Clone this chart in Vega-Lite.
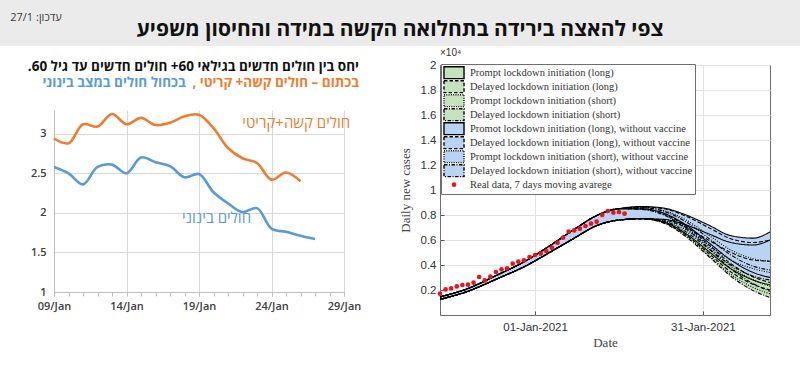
{
  "$schema": "https://vega.github.io/schema/vega-lite/v6.json",
  "background": "white",
  "padding": 0,
  "config": {"view": {"stroke": null}, "font": "Open Sans", "axis": {"labelOverlap": false}},
  "datasets": {
    "ratios": [
      {"series": "severe", "date": "2021-01-09", "ratio": 2.94},
      {"series": "severe", "date": "2021-01-10", "ratio": 2.88},
      {"series": "severe", "date": "2021-01-11", "ratio": 3.12},
      {"series": "severe", "date": "2021-01-12", "ratio": 3.09},
      {"series": "severe", "date": "2021-01-13", "ratio": 3.25},
      {"series": "severe", "date": "2021-01-14", "ratio": 3.12},
      {"series": "severe", "date": "2021-01-15", "ratio": 3.20},
      {"series": "severe", "date": "2021-01-16", "ratio": 3.11},
      {"series": "severe", "date": "2021-01-17", "ratio": 3.14},
      {"series": "severe", "date": "2021-01-18", "ratio": 3.22},
      {"series": "severe", "date": "2021-01-19", "ratio": 3.24},
      {"series": "severe", "date": "2021-01-20", "ratio": 3.07},
      {"series": "severe", "date": "2021-01-21", "ratio": 2.82},
      {"series": "severe", "date": "2021-01-22", "ratio": 2.69},
      {"series": "severe", "date": "2021-01-23", "ratio": 2.63},
      {"series": "severe", "date": "2021-01-24", "ratio": 2.42},
      {"series": "severe", "date": "2021-01-25", "ratio": 2.51},
      {"series": "severe", "date": "2021-01-26", "ratio": 2.40},
      {"series": "moderate", "date": "2021-01-09", "ratio": 2.58},
      {"series": "moderate", "date": "2021-01-10", "ratio": 2.50},
      {"series": "moderate", "date": "2021-01-11", "ratio": 2.36},
      {"series": "moderate", "date": "2021-01-12", "ratio": 2.58},
      {"series": "moderate", "date": "2021-01-13", "ratio": 2.61},
      {"series": "moderate", "date": "2021-01-14", "ratio": 2.50},
      {"series": "moderate", "date": "2021-01-15", "ratio": 2.70},
      {"series": "moderate", "date": "2021-01-16", "ratio": 2.64},
      {"series": "moderate", "date": "2021-01-17", "ratio": 2.59},
      {"series": "moderate", "date": "2021-01-18", "ratio": 2.45},
      {"series": "moderate", "date": "2021-01-19", "ratio": 2.49},
      {"series": "moderate", "date": "2021-01-20", "ratio": 2.26},
      {"series": "moderate", "date": "2021-01-21", "ratio": 2.12},
      {"series": "moderate", "date": "2021-01-22", "ratio": 2.01},
      {"series": "moderate", "date": "2021-01-23", "ratio": 2.06},
      {"series": "moderate", "date": "2021-01-24", "ratio": 1.80},
      {"series": "moderate", "date": "2021-01-25", "ratio": 1.76},
      {"series": "moderate", "date": "2021-01-26", "ratio": 1.71},
      {"series": "moderate", "date": "2021-01-27", "ratio": 1.67}
    ],
    "ratioLabels": [
      {"series": "severe", "date": "2021-01-25T17:00:00Z", "ratio": 3.13, "label": "‏חולים קשה+קריטי‏"},
      {"series": "moderate", "date": "2021-01-20T05:00:00Z", "ratio": 1.93, "label": "‏חולים בינוני‏"}
    ],
    "real": [
      {"scenario": "Real data, 7 days moving avarege", "date": "2020-12-15", "cases": 0.171},
      {"scenario": "Real data, 7 days moving avarege", "date": "2020-12-16", "cases": 0.205},
      {"scenario": "Real data, 7 days moving avarege", "date": "2020-12-17", "cases": 0.213},
      {"scenario": "Real data, 7 days moving avarege", "date": "2020-12-18", "cases": 0.229},
      {"scenario": "Real data, 7 days moving avarege", "date": "2020-12-19", "cases": 0.240},
      {"scenario": "Real data, 7 days moving avarege", "date": "2020-12-20", "cases": 0.243},
      {"scenario": "Real data, 7 days moving avarege", "date": "2020-12-21", "cases": 0.259},
      {"scenario": "Real data, 7 days moving avarege", "date": "2020-12-22", "cases": 0.304},
      {"scenario": "Real data, 7 days moving avarege", "date": "2020-12-23", "cases": 0.277},
      {"scenario": "Real data, 7 days moving avarege", "date": "2020-12-24", "cases": 0.307},
      {"scenario": "Real data, 7 days moving avarege", "date": "2020-12-25", "cases": 0.344},
      {"scenario": "Real data, 7 days moving avarege", "date": "2020-12-26", "cases": 0.365},
      {"scenario": "Real data, 7 days moving avarege", "date": "2020-12-27", "cases": 0.373},
      {"scenario": "Real data, 7 days moving avarege", "date": "2020-12-28", "cases": 0.411},
      {"scenario": "Real data, 7 days moving avarege", "date": "2020-12-29", "cases": 0.427},
      {"scenario": "Real data, 7 days moving avarege", "date": "2020-12-30", "cases": 0.437},
      {"scenario": "Real data, 7 days moving avarege", "date": "2020-12-31", "cases": 0.464},
      {"scenario": "Real data, 7 days moving avarege", "date": "2021-01-01", "cases": 0.480},
      {"scenario": "Real data, 7 days moving avarege", "date": "2021-01-02", "cases": 0.491},
      {"scenario": "Real data, 7 days moving avarege", "date": "2021-01-03", "cases": 0.512},
      {"scenario": "Real data, 7 days moving avarege", "date": "2021-01-04", "cases": 0.539},
      {"scenario": "Real data, 7 days moving avarege", "date": "2021-01-05", "cases": 0.579},
      {"scenario": "Real data, 7 days moving avarege", "date": "2021-01-06", "cases": 0.619},
      {"scenario": "Real data, 7 days moving avarege", "date": "2021-01-07", "cases": 0.667},
      {"scenario": "Real data, 7 days moving avarege", "date": "2021-01-08", "cases": 0.677},
      {"scenario": "Real data, 7 days moving avarege", "date": "2021-01-09", "cases": 0.691},
      {"scenario": "Real data, 7 days moving avarege", "date": "2021-01-10", "cases": 0.712},
      {"scenario": "Real data, 7 days moving avarege", "date": "2021-01-11", "cases": 0.731},
      {"scenario": "Real data, 7 days moving avarege", "date": "2021-01-12", "cases": 0.747},
      {"scenario": "Real data, 7 days moving avarege", "date": "2021-01-13", "cases": 0.800},
      {"scenario": "Real data, 7 days moving avarege", "date": "2021-01-14", "cases": 0.832},
      {"scenario": "Real data, 7 days moving avarege", "date": "2021-01-15", "cases": 0.819},
      {"scenario": "Real data, 7 days moving avarege", "date": "2021-01-16", "cases": 0.824},
      {"scenario": "Real data, 7 days moving avarege", "date": "2021-01-17", "cases": 0.811}
    ],
    "bands": [
      {"scenario": "Prompt lockdown initiation (long)", "date": "2020-12-15", "lo": 0.125, "hi": 0.145},
      {"scenario": "Prompt lockdown initiation (long)", "date": "2020-12-20", "lo": 0.19, "hi": 0.212},
      {"scenario": "Prompt lockdown initiation (long)", "date": "2020-12-25", "lo": 0.285, "hi": 0.315},
      {"scenario": "Prompt lockdown initiation (long)", "date": "2020-12-30", "lo": 0.385, "hi": 0.425},
      {"scenario": "Prompt lockdown initiation (long)", "date": "2021-01-04", "lo": 0.51, "hi": 0.565},
      {"scenario": "Prompt lockdown initiation (long)", "date": "2021-01-08", "lo": 0.615, "hi": 0.685},
      {"scenario": "Prompt lockdown initiation (long)", "date": "2021-01-12", "lo": 0.715, "hi": 0.795},
      {"scenario": "Prompt lockdown initiation (long)", "date": "2021-01-16", "lo": 0.76, "hi": 0.85},
      {"scenario": "Prompt lockdown initiation (long)", "date": "2021-01-20", "lo": 0.77, "hi": 0.85},
      {"scenario": "Prompt lockdown initiation (long)", "date": "2021-01-24", "lo": 0.745, "hi": 0.815},
      {"scenario": "Prompt lockdown initiation (long)", "date": "2021-01-28", "lo": 0.65, "hi": 0.72},
      {"scenario": "Prompt lockdown initiation (long)", "date": "2021-02-01", "lo": 0.51, "hi": 0.58},
      {"scenario": "Prompt lockdown initiation (long)", "date": "2021-02-05", "lo": 0.37, "hi": 0.44},
      {"scenario": "Prompt lockdown initiation (long)", "date": "2021-02-09", "lo": 0.28, "hi": 0.34},
      {"scenario": "Prompt lockdown initiation (long)", "date": "2021-02-12", "lo": 0.24, "hi": 0.30},
      {"scenario": "Delayed lockdown initiation (long)", "date": "2020-12-15", "lo": 0.125, "hi": 0.145},
      {"scenario": "Delayed lockdown initiation (long)", "date": "2020-12-20", "lo": 0.19, "hi": 0.212},
      {"scenario": "Delayed lockdown initiation (long)", "date": "2020-12-25", "lo": 0.285, "hi": 0.315},
      {"scenario": "Delayed lockdown initiation (long)", "date": "2020-12-30", "lo": 0.385, "hi": 0.425},
      {"scenario": "Delayed lockdown initiation (long)", "date": "2021-01-04", "lo": 0.51, "hi": 0.565},
      {"scenario": "Delayed lockdown initiation (long)", "date": "2021-01-08", "lo": 0.615, "hi": 0.685},
      {"scenario": "Delayed lockdown initiation (long)", "date": "2021-01-12", "lo": 0.715, "hi": 0.795},
      {"scenario": "Delayed lockdown initiation (long)", "date": "2021-01-16", "lo": 0.76, "hi": 0.85},
      {"scenario": "Delayed lockdown initiation (long)", "date": "2021-01-20", "lo": 0.77, "hi": 0.85},
      {"scenario": "Delayed lockdown initiation (long)", "date": "2021-01-24", "lo": 0.74, "hi": 0.81},
      {"scenario": "Delayed lockdown initiation (long)", "date": "2021-01-28", "lo": 0.64, "hi": 0.71},
      {"scenario": "Delayed lockdown initiation (long)", "date": "2021-02-01", "lo": 0.495, "hi": 0.565},
      {"scenario": "Delayed lockdown initiation (long)", "date": "2021-02-05", "lo": 0.345, "hi": 0.41},
      {"scenario": "Delayed lockdown initiation (long)", "date": "2021-02-09", "lo": 0.245, "hi": 0.305},
      {"scenario": "Delayed lockdown initiation (long)", "date": "2021-02-12", "lo": 0.20, "hi": 0.26},
      {"scenario": "Prompt lockdown initiation (short)", "date": "2020-12-15", "lo": 0.125, "hi": 0.145},
      {"scenario": "Prompt lockdown initiation (short)", "date": "2020-12-20", "lo": 0.19, "hi": 0.212},
      {"scenario": "Prompt lockdown initiation (short)", "date": "2020-12-25", "lo": 0.285, "hi": 0.315},
      {"scenario": "Prompt lockdown initiation (short)", "date": "2020-12-30", "lo": 0.385, "hi": 0.425},
      {"scenario": "Prompt lockdown initiation (short)", "date": "2021-01-04", "lo": 0.51, "hi": 0.565},
      {"scenario": "Prompt lockdown initiation (short)", "date": "2021-01-08", "lo": 0.615, "hi": 0.685},
      {"scenario": "Prompt lockdown initiation (short)", "date": "2021-01-12", "lo": 0.715, "hi": 0.795},
      {"scenario": "Prompt lockdown initiation (short)", "date": "2021-01-16", "lo": 0.76, "hi": 0.85},
      {"scenario": "Prompt lockdown initiation (short)", "date": "2021-01-20", "lo": 0.77, "hi": 0.845},
      {"scenario": "Prompt lockdown initiation (short)", "date": "2021-01-24", "lo": 0.74, "hi": 0.805},
      {"scenario": "Prompt lockdown initiation (short)", "date": "2021-01-28", "lo": 0.635, "hi": 0.70},
      {"scenario": "Prompt lockdown initiation (short)", "date": "2021-02-01", "lo": 0.48, "hi": 0.55},
      {"scenario": "Prompt lockdown initiation (short)", "date": "2021-02-05", "lo": 0.325, "hi": 0.39},
      {"scenario": "Prompt lockdown initiation (short)", "date": "2021-02-09", "lo": 0.22, "hi": 0.28},
      {"scenario": "Prompt lockdown initiation (short)", "date": "2021-02-12", "lo": 0.17, "hi": 0.23},
      {"scenario": "Delayed lockdown initiation (short)", "date": "2020-12-15", "lo": 0.125, "hi": 0.145},
      {"scenario": "Delayed lockdown initiation (short)", "date": "2020-12-20", "lo": 0.19, "hi": 0.212},
      {"scenario": "Delayed lockdown initiation (short)", "date": "2020-12-25", "lo": 0.285, "hi": 0.315},
      {"scenario": "Delayed lockdown initiation (short)", "date": "2020-12-30", "lo": 0.385, "hi": 0.425},
      {"scenario": "Delayed lockdown initiation (short)", "date": "2021-01-04", "lo": 0.51, "hi": 0.565},
      {"scenario": "Delayed lockdown initiation (short)", "date": "2021-01-08", "lo": 0.615, "hi": 0.685},
      {"scenario": "Delayed lockdown initiation (short)", "date": "2021-01-12", "lo": 0.715, "hi": 0.795},
      {"scenario": "Delayed lockdown initiation (short)", "date": "2021-01-16", "lo": 0.76, "hi": 0.85},
      {"scenario": "Delayed lockdown initiation (short)", "date": "2021-01-20", "lo": 0.77, "hi": 0.845},
      {"scenario": "Delayed lockdown initiation (short)", "date": "2021-01-24", "lo": 0.735, "hi": 0.80},
      {"scenario": "Delayed lockdown initiation (short)", "date": "2021-01-28", "lo": 0.625, "hi": 0.69},
      {"scenario": "Delayed lockdown initiation (short)", "date": "2021-02-01", "lo": 0.47, "hi": 0.535},
      {"scenario": "Delayed lockdown initiation (short)", "date": "2021-02-05", "lo": 0.31, "hi": 0.37},
      {"scenario": "Delayed lockdown initiation (short)", "date": "2021-02-09", "lo": 0.195, "hi": 0.25},
      {"scenario": "Delayed lockdown initiation (short)", "date": "2021-02-12", "lo": 0.14, "hi": 0.19},
      {"scenario": "Promot lockdown initiation (long), without vaccine", "date": "2020-12-15", "lo": 0.125, "hi": 0.145},
      {"scenario": "Promot lockdown initiation (long), without vaccine", "date": "2020-12-20", "lo": 0.19, "hi": 0.212},
      {"scenario": "Promot lockdown initiation (long), without vaccine", "date": "2020-12-25", "lo": 0.285, "hi": 0.315},
      {"scenario": "Promot lockdown initiation (long), without vaccine", "date": "2020-12-30", "lo": 0.385, "hi": 0.425},
      {"scenario": "Promot lockdown initiation (long), without vaccine", "date": "2021-01-04", "lo": 0.51, "hi": 0.565},
      {"scenario": "Promot lockdown initiation (long), without vaccine", "date": "2021-01-08", "lo": 0.615, "hi": 0.685},
      {"scenario": "Promot lockdown initiation (long), without vaccine", "date": "2021-01-12", "lo": 0.715, "hi": 0.795},
      {"scenario": "Promot lockdown initiation (long), without vaccine", "date": "2021-01-16", "lo": 0.76, "hi": 0.85},
      {"scenario": "Promot lockdown initiation (long), without vaccine", "date": "2021-01-20", "lo": 0.77, "hi": 0.868},
      {"scenario": "Promot lockdown initiation (long), without vaccine", "date": "2021-01-24", "lo": 0.765, "hi": 0.855},
      {"scenario": "Promot lockdown initiation (long), without vaccine", "date": "2021-01-28", "lo": 0.72, "hi": 0.80},
      {"scenario": "Promot lockdown initiation (long), without vaccine", "date": "2021-02-01", "lo": 0.65, "hi": 0.72},
      {"scenario": "Promot lockdown initiation (long), without vaccine", "date": "2021-02-05", "lo": 0.58, "hi": 0.635},
      {"scenario": "Promot lockdown initiation (long), without vaccine", "date": "2021-02-09", "lo": 0.56, "hi": 0.615},
      {"scenario": "Promot lockdown initiation (long), without vaccine", "date": "2021-02-12", "lo": 0.60, "hi": 0.665},
      {"scenario": "Delayed lockdown initiation (long), without vaccine", "date": "2020-12-15", "lo": 0.125, "hi": 0.145},
      {"scenario": "Delayed lockdown initiation (long), without vaccine", "date": "2020-12-20", "lo": 0.19, "hi": 0.212},
      {"scenario": "Delayed lockdown initiation (long), without vaccine", "date": "2020-12-25", "lo": 0.285, "hi": 0.315},
      {"scenario": "Delayed lockdown initiation (long), without vaccine", "date": "2020-12-30", "lo": 0.385, "hi": 0.425},
      {"scenario": "Delayed lockdown initiation (long), without vaccine", "date": "2021-01-04", "lo": 0.51, "hi": 0.565},
      {"scenario": "Delayed lockdown initiation (long), without vaccine", "date": "2021-01-08", "lo": 0.615, "hi": 0.685},
      {"scenario": "Delayed lockdown initiation (long), without vaccine", "date": "2021-01-12", "lo": 0.715, "hi": 0.795},
      {"scenario": "Delayed lockdown initiation (long), without vaccine", "date": "2021-01-16", "lo": 0.76, "hi": 0.85},
      {"scenario": "Delayed lockdown initiation (long), without vaccine", "date": "2021-01-20", "lo": 0.77, "hi": 0.865},
      {"scenario": "Delayed lockdown initiation (long), without vaccine", "date": "2021-01-24", "lo": 0.76, "hi": 0.85},
      {"scenario": "Delayed lockdown initiation (long), without vaccine", "date": "2021-01-28", "lo": 0.70, "hi": 0.79},
      {"scenario": "Delayed lockdown initiation (long), without vaccine", "date": "2021-02-01", "lo": 0.60, "hi": 0.70},
      {"scenario": "Delayed lockdown initiation (long), without vaccine", "date": "2021-02-05", "lo": 0.50, "hi": 0.61},
      {"scenario": "Delayed lockdown initiation (long), without vaccine", "date": "2021-02-09", "lo": 0.44, "hi": 0.58},
      {"scenario": "Delayed lockdown initiation (long), without vaccine", "date": "2021-02-12", "lo": 0.43, "hi": 0.60},
      {"scenario": "Prompt lockdown initiation (short), without vaccine", "date": "2020-12-15", "lo": 0.125, "hi": 0.145},
      {"scenario": "Prompt lockdown initiation (short), without vaccine", "date": "2020-12-20", "lo": 0.19, "hi": 0.212},
      {"scenario": "Prompt lockdown initiation (short), without vaccine", "date": "2020-12-25", "lo": 0.285, "hi": 0.315},
      {"scenario": "Prompt lockdown initiation (short), without vaccine", "date": "2020-12-30", "lo": 0.385, "hi": 0.425},
      {"scenario": "Prompt lockdown initiation (short), without vaccine", "date": "2021-01-04", "lo": 0.51, "hi": 0.565},
      {"scenario": "Prompt lockdown initiation (short), without vaccine", "date": "2021-01-08", "lo": 0.615, "hi": 0.685},
      {"scenario": "Prompt lockdown initiation (short), without vaccine", "date": "2021-01-12", "lo": 0.715, "hi": 0.795},
      {"scenario": "Prompt lockdown initiation (short), without vaccine", "date": "2021-01-16", "lo": 0.76, "hi": 0.85},
      {"scenario": "Prompt lockdown initiation (short), without vaccine", "date": "2021-01-20", "lo": 0.77, "hi": 0.86},
      {"scenario": "Prompt lockdown initiation (short), without vaccine", "date": "2021-01-24", "lo": 0.755, "hi": 0.835},
      {"scenario": "Prompt lockdown initiation (short), without vaccine", "date": "2021-01-28", "lo": 0.68, "hi": 0.76},
      {"scenario": "Prompt lockdown initiation (short), without vaccine", "date": "2021-02-01", "lo": 0.56, "hi": 0.64},
      {"scenario": "Prompt lockdown initiation (short), without vaccine", "date": "2021-02-05", "lo": 0.44, "hi": 0.52},
      {"scenario": "Prompt lockdown initiation (short), without vaccine", "date": "2021-02-09", "lo": 0.37, "hi": 0.45},
      {"scenario": "Prompt lockdown initiation (short), without vaccine", "date": "2021-02-12", "lo": 0.34, "hi": 0.43},
      {"scenario": "Delayed lockdown initiation (short), without vaccine", "date": "2020-12-15", "lo": 0.125, "hi": 0.145},
      {"scenario": "Delayed lockdown initiation (short), without vaccine", "date": "2020-12-20", "lo": 0.19, "hi": 0.212},
      {"scenario": "Delayed lockdown initiation (short), without vaccine", "date": "2020-12-25", "lo": 0.285, "hi": 0.315},
      {"scenario": "Delayed lockdown initiation (short), without vaccine", "date": "2020-12-30", "lo": 0.385, "hi": 0.425},
      {"scenario": "Delayed lockdown initiation (short), without vaccine", "date": "2021-01-04", "lo": 0.51, "hi": 0.565},
      {"scenario": "Delayed lockdown initiation (short), without vaccine", "date": "2021-01-08", "lo": 0.615, "hi": 0.685},
      {"scenario": "Delayed lockdown initiation (short), without vaccine", "date": "2021-01-12", "lo": 0.715, "hi": 0.795},
      {"scenario": "Delayed lockdown initiation (short), without vaccine", "date": "2021-01-16", "lo": 0.76, "hi": 0.85},
      {"scenario": "Delayed lockdown initiation (short), without vaccine", "date": "2021-01-20", "lo": 0.77, "hi": 0.86},
      {"scenario": "Delayed lockdown initiation (short), without vaccine", "date": "2021-01-24", "lo": 0.75, "hi": 0.83},
      {"scenario": "Delayed lockdown initiation (short), without vaccine", "date": "2021-01-28", "lo": 0.665, "hi": 0.745},
      {"scenario": "Delayed lockdown initiation (short), without vaccine", "date": "2021-02-01", "lo": 0.53, "hi": 0.615},
      {"scenario": "Delayed lockdown initiation (short), without vaccine", "date": "2021-02-05", "lo": 0.40, "hi": 0.48},
      {"scenario": "Delayed lockdown initiation (short), without vaccine", "date": "2021-02-09", "lo": 0.31, "hi": 0.39},
      {"scenario": "Delayed lockdown initiation (short), without vaccine", "date": "2021-02-12", "lo": 0.28, "hi": 0.36}
    ]
  },
  "concat": [
    {
      "concat": [
        {
          "width": 70, "height": 46,
          "view": {"fill": "#ebebeb", "stroke": null},
          "data": {"values": [{"t": "‏עדכון: 27/1‏"}]},
          "mark": {"type": "text", "font": "Open Sans", "fontSize": 11, "color": "#3a3a3a", "dy": -5, "dx": 1},
          "encoding": {"text": {"field": "t", "type": "nominal"}}
        },
        {
          "width": 660, "height": 46,
          "view": {"fill": "#ebebeb", "stroke": null},
          "data": {"values": [{"t": "‏צפי להאצה בירידה בתחלואה הקשה במידה והחיסון משפיע‏"}]},
          "mark": {"type": "text", "font": "Open Sans", "fontSize": 21, "fontWeight": "bold", "color": "#111111", "dy": 7},
          "encoding": {"text": {"field": "t", "type": "nominal"}}
        },
        {
          "width": 70, "height": 46,
          "view": {"fill": "#ebebeb", "stroke": null},
          "data": {"values": [{"t": ""}]},
          "mark": {"type": "text"},
          "encoding": {"text": {"field": "t", "type": "nominal"}}
        }
      ],
      "columns": 3, "align": "none", "spacing": 0
    },
    {
      "concat": [
        {"width": 1, "height": 1, "data": {"values": []}, "mark": "point"},
        {
          "concat": [
            {
              "spacing": 0,
              "vconcat": [
                {"width": 1, "height": 13, "data": {"values": []}, "mark": "point"},
                {
                  "title": {"text": "‏בכחול חולים במצב בינוני‏", "color": "#5B9BD5", "anchor": "end", "frame": "bounds", "dx": -175, "fontSize": 13.5, "fontWeight": "bold", "font": "Open Sans", "offset": -30},
                  "vconcat": [
                    {
                      "width": 290, "height": 182,
                      "title": {
                        "text": "‏יחס בין חולים חדשים בגילאי 60+ חולים חדשים עד גיל 60.‏",
                        "subtitle": "‏בכתום – חולים קשה+ קריטי ,‏",
                        "anchor": "end", "frame": "group", "dx": 15,
                        "font": "Open Sans", "fontSize": 13.5, "fontWeight": "bold", "color": "#111111",
                        "subtitleFont": "Open Sans", "subtitleFontSize": 13.5, "subtitleFontWeight": "bold", "subtitleColor": "#ED7D31",
                        "subtitlePadding": 3, "offset": 19
                      },
                      "resolve": {"axis": {"x": "independent"}},
                      "layer": [
                        {
                          "data": {"name": "ratios"},
                          "mark": {"type": "line", "interpolate": "catmull-rom", "strokeWidth": 2.6},
                          "encoding": {
                            "x": {
                              "field": "date", "type": "temporal",
                              "scale": {"type": "utc", "domain": [{"year": 2021, "month": "jan", "date": 9, "utc": true}, {"year": 2021, "month": "jan", "date": 29, "utc": true}]},
                              "axis": {
                                "title": null, "orient": "bottom", "tickCount": 30,
                                "values": [
                                  {"year": 2021, "month": "jan", "date": 9, "utc": true},
                                  {"year": 2021, "month": "jan", "date": 14, "utc": true},
                                  {"year": 2021, "month": "jan", "date": 19, "utc": true},
                                  {"year": 2021, "month": "jan", "date": 24, "utc": true},
                                  {"year": 2021, "month": "jan", "date": 29, "utc": true}
                                ],
                                "labelExpr": "utcFormat(datum.value, '%d/%b')",
                                "labelOverlap": false, "labelFlush": false,
                                "labelFont": "Open Sans", "labelFontSize": 11, "labelFontWeight": 600, "labelColor": "#404040", "labelPadding": 4,
                                "grid": true, "gridColor": "#d9d9d9",
                                "domainColor": "#bfbfbf", "tickColor": "#bfbfbf", "tickSize": 4
                              }
                            },
                            "y": {
                              "field": "ratio", "type": "quantitative",
                              "scale": {"domain": [1, 3.3], "nice": false},
                              "axis": {
                                "title": " ", "titlePadding": 13, "tickCount": 20,
                                "values": [1, 1.5, 2, 2.5, 3], "format": "~g",
                                "labelFont": "Open Sans", "labelFontSize": 11, "labelFontWeight": 600, "labelColor": "#404040", "labelPadding": 8,
                                "ticks": false, "grid": true, "gridColor": "#d9d9d9", "domainColor": "#bfbfbf"
                              }
                            },
                            "color": {"field": "series", "type": "nominal", "scale": {"domain": ["severe", "moderate"], "range": ["#ED7D31", "#5B9BD5"]}, "legend": null}
                          }
                        },
                        {
                          "data": {"name": "ratioLabels"},
                          "mark": {"type": "text", "font": "Open Sans", "fontSize": 15},
                          "encoding": {
                            "x": {
                              "field": "date", "type": "temporal",
                              "axis": {
                                "title": null, "orient": "bottom", "labels": false, "grid": false, "domain": false,
                                "tickCount": {"interval": "day", "step": 1},
                                "tickColor": "#bfbfbf", "tickSize": 4
                              }
                            },
                            "y": {"field": "ratio", "type": "quantitative"},
                            "text": {"field": "label", "type": "nominal"},
                            "color": {"field": "series", "type": "nominal", "legend": null}
                          }
                        }
                      ]
                    }
                  ]
                }
              ]
            },
            {
              "spacing": 0,
              "vconcat": [
                {"width": 1, "height": 1, "data": {"values": []}, "mark": "point"},
                {
                  "width": 330, "height": 250,
                  "title": {"text": "×10⁴", "anchor": "start", "frame": "group", "font": "Liberation Sans", "fontSize": 10, "fontWeight": "normal", "color": "#333333", "offset": 1},
                  "view": {"stroke": "#6e6e6e", "strokeWidth": 1},
                  "encoding": {
                    "x": {
                      "field": "date", "type": "temporal",
                      "scale": {"type": "utc", "domain": [{"year": 2020, "month": "dec", "date": 15, "utc": true}, {"year": 2021, "month": "feb", "date": 12, "utc": true}]},
                      "axis": {
                        "title": "Date", "titleFont": "Liberation Serif", "titleFontSize": 13, "titleFontWeight": "normal", "titleColor": "#444444", "titlePadding": 4,
                        "values": [{"year": 2021, "month": "jan", "date": 1, "utc": true}, {"year": 2021, "month": "jan", "date": 31, "utc": true}],
                        "labelExpr": "utcFormat(datum.value, '%d-%b-%Y')", "labelOverlap": false, "tickCount": 20,
                        "labelFont": "Liberation Sans", "labelFontSize": 11.5, "labelColor": "#333333", "labelPadding": 10,
                        "grid": true, "gridColor": "#e3e3e3", "domain": false, "tickSize": -4, "tickColor": "#555555"
                      }
                    }
                  },
                  "layer": [
                    {
                      "data": {"name": "bands"},
                      "mark": {"type": "area", "interpolate": "monotone", "opacity": 1},
                      "encoding": {
                        "y": {
                          "field": "lo", "type": "quantitative", "stack": null,
                          "scale": {"domain": [0, 2], "nice": false},
                          "axis": {
                            "title": "Daily new cases", "titleFont": "Liberation Serif", "titleFontSize": 13, "titleFontWeight": "normal", "titleColor": "#444444", "titlePadding": 8,
                            "values": [0.2, 0.4, 0.6, 0.8, 1, 1.2, 1.4, 1.6, 1.8, 2], "format": "~g", "labelOverlap": false, "tickCount": 30,
                            "labelFont": "Liberation Sans", "labelFontSize": 11.5, "labelColor": "#333333", "labelPadding": 8,
                            "grid": true, "gridColor": "#e3e3e3", "domain": false, "tickSize": -4, "tickColor": "#555555"
                          }
                        },
                        "y2": {"field": "hi"},
                        "color": {
                          "field": "scenario", "type": "nominal",
                          "scale": {
                            "domain": [
                              "Prompt lockdown initiation (long)",
                              "Delayed lockdown initiation (long)",
                              "Prompt lockdown initiation (short)",
                              "Delayed lockdown initiation (short)",
                              "Promot lockdown initiation (long), without vaccine",
                              "Delayed lockdown initiation (long), without vaccine",
                              "Prompt lockdown initiation (short), without vaccine",
                              "Delayed lockdown initiation (short), without vaccine",
                              "Real data, 7 days moving avarege"
                            ],
                            "range": ["#c4e3bd", "#c4e3bd", "#c4e3bd", "#c4e3bd", "#b8d4f2", "#b8d4f2", "#b8d4f2", "#b8d4f2", "#e8141b"]
                          },
                          "legend": {
                            "title": null, "orient": "none", "legendX": 1, "legendY": 18, "padding": 2,
                            "fillColor": "white", "strokeColor": "#6e6e6e",
                            "symbolType": "M-1.67,-1H1.67V1H-1.67Z", "symbolSize": 144, "symbolOffset": 4, "symbolStrokeWidth": 1.4, "symbolStrokeColor": "black", "symbolOpacity": 1,
                            "labelFont": "Liberation Serif", "labelFontSize": 10.5, "labelColor": "#333333", "labelLimit": 0, "labelOffset": 9,
                            "clipHeight": 13.4, "rowPadding": 0,
                            "encode": {
                              "symbols": {
                                "update": {
                                  "shape": {"signal": "datum.value === 'Real data, 7 days moving avarege' ? 'circle' : 'M-1.67,-1H1.67V1H-1.67Z'"},
                                  "size": {"signal": "datum.value === 'Real data, 7 days moving avarege' ? 22 : 144"},
                                  "stroke": {"signal": "datum.value === 'Real data, 7 days moving avarege' ? 'transparent' : 'black'"},
                                  "strokeDash": {"signal": "indexof(datum.value, 'Delayed') >= 0 ? (indexof(datum.value, '(long)') >= 0 ? [3.5, 2] : [3.5, 1.5, 1, 1.5]) : (indexof(datum.value, '(short)') >= 0 ? [1, 1.3] : [1, 0])"},
                                  "fill": {"scale": "color", "field": "value"},
                                  "opacity": {"value": 1}
                                }
                              }
                            }
                          }
                        }
                      }
                    },
                    {
                      "data": {"name": "bands"},
                      "mark": {"type": "line", "interpolate": "monotone", "color": "black", "strokeWidth": 1.1},
                      "encoding": {
                        "y": {"field": "lo", "type": "quantitative", "title": "Daily new cases"},
                        "strokeDash": {
                          "field": "scenario", "type": "nominal", "legend": null,
                          "scale": {
                            "domain": [
                              "Prompt lockdown initiation (long)",
                              "Delayed lockdown initiation (long)",
                              "Prompt lockdown initiation (short)",
                              "Delayed lockdown initiation (short)",
                              "Promot lockdown initiation (long), without vaccine",
                              "Delayed lockdown initiation (long), without vaccine",
                              "Prompt lockdown initiation (short), without vaccine",
                              "Delayed lockdown initiation (short), without vaccine"
                            ],
                            "range": [[1, 0], [4, 2], [1, 1.5], [4, 1.5, 1, 1.5], [1, 0], [4, 2], [1, 1.5], [4, 1.5, 1, 1.5]]
                          }
                        }
                      }
                    },
                    {
                      "data": {"name": "bands"},
                      "mark": {"type": "line", "interpolate": "monotone", "color": "black", "strokeWidth": 1.1},
                      "encoding": {
                        "y": {"field": "hi", "type": "quantitative", "title": "Daily new cases"},
                        "strokeDash": {"field": "scenario", "type": "nominal", "legend": null}
                      }
                    },
                    {
                      "data": {"name": "real"},
                      "mark": {"type": "circle", "size": 22, "opacity": 1},
                      "encoding": {
                        "y": {"field": "cases", "type": "quantitative", "title": "Daily new cases"},
                        "color": {"field": "scenario", "type": "nominal"}
                      }
                    }
                  ]
                }
              ]
            }
          ],
          "columns": 2, "align": "none", "spacing": 37,
          "resolve": {"scale": {"color": "independent"}}
        }
      ],
      "columns": 2, "align": "none", "spacing": 5
    }
  ],
  "columns": 1, "align": "none", "spacing": 0
}
